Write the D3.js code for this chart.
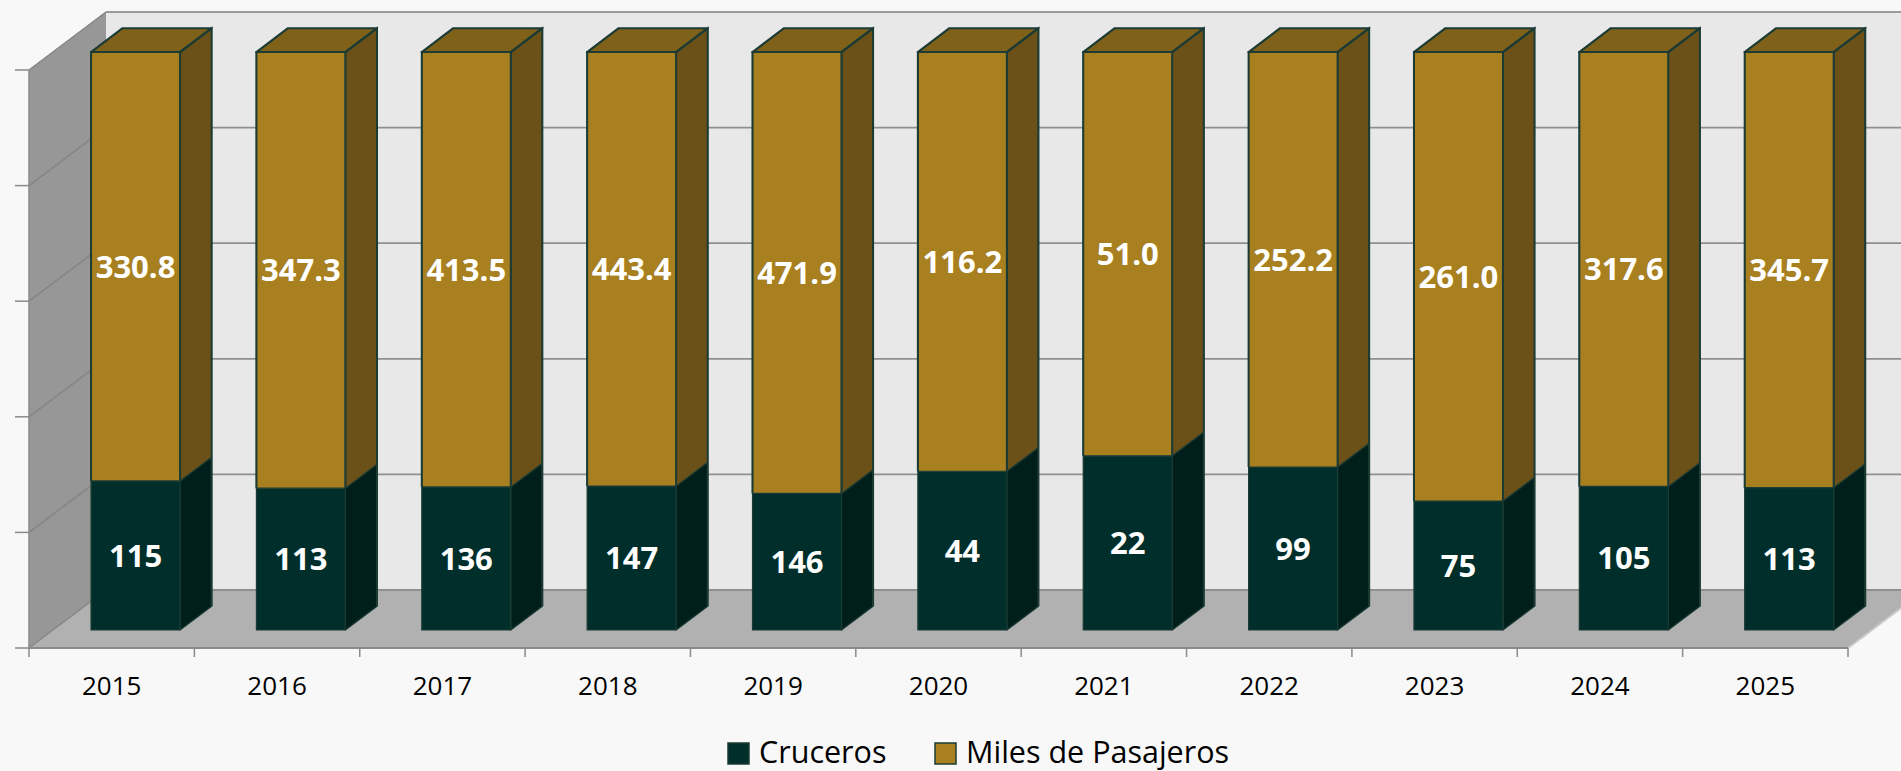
<!DOCTYPE html>
<html>
<head>
<meta charset="utf-8">
<script src="https://cdn.jsdelivr.net/npm/d3@7"></script>
<style>
  html,body{margin:0;padding:0;background:#f8f8f8;}
  svg{display:block;}
  text{font-family:"Open Sans",sans-serif;}
</style>
</head>
<body>
<svg id="chart" width="1901" height="771"></svg>
<script>
// ---- data ----
const years = ["2015","2016","2017","2018","2019","2020","2021","2022","2023","2024","2025"];
const cruceros = [115,113,136,147,146,44,22,99,75,105,113];
const pasajeros = [330.8,347.3,413.5,443.4,471.9,116.2,51.0,252.2,261.0,317.6,345.7];
const seriesNames = ["Cruceros","Miles de Pasajeros"];
const yTicks = [0,0.2,0.4,0.6,0.8,1];

// ---- layout ----
const W = 1901, H = 771;
const left = 29, right = 1848, floorY = 648, topY = 70;
const depth = {dx:77, dy:-58};
const fFront = 0.31, fBack = 0.72;

const svg = d3.select("#chart");
svg.append("rect").attr("width",W).attr("height",H).attr("fill","#f8f8f8");

const x = d3.scaleBand().domain(years).range([left,right]).paddingInner(0).paddingOuter(0);
const y = d3.scaleLinear().domain([0,1]).range([floorY,topY]);
const barW = 89;

const colors = {
  dark:{front:"#002e2a", side:"#001f1a", top:"#00241f"},
  gold:{front:"#a88020", side:"#6b5117", top:"#80611a"}
};
const outline = "#1b3b34";

function P(px,py,f){ return [px + depth.dx*f, py + depth.dy*f]; }
function poly(pts){ return "M"+pts.map(p=>p[0].toFixed(2)+","+p[1].toFixed(2)).join("L")+"Z"; }

// ---- walls ----
const g = svg.append("g");
const bl = P(left,y(0),1), tl = P(left,y(1),1);
g.append("path").attr("d",poly([tl,[W+100,tl[1]],[W+100,bl[1]],bl])).attr("fill","#e8e8e8");
g.append("path").attr("d",poly([[left,y(1)],tl,bl,[left,y(0)]])).attr("fill","#979797");
g.append("path").attr("d",poly([[left,y(0)],[right,y(0)],P(right,y(0),1),bl])).attr("fill","#b1b1b1");

yTicks.forEach(t=>{
  const a = P(left,y(t),1);
  g.append("line").attr("x1",a[0]).attr("y1",a[1]).attr("x2",W+100).attr("y2",a[1])
    .attr("stroke",t===1?"#9a9a9a":"#8f8f8f").attr("stroke-width",1.8);
  g.append("line").attr("x1",left).attr("y1",y(t)).attr("x2",a[0]).attr("y2",a[1])
    .attr("stroke","#858585").attr("stroke-width",1.5);
});
const fr = P(right,y(0),1);
g.append("line").attr("x1",right).attr("y1",y(0)).attr("x2",fr[0]).attr("y2",fr[1])
  .attr("stroke","#c8c8c8").attr("stroke-width",2);

g.append("line").attr("x1",left).attr("y1",y(1)).attr("x2",left).attr("y2",y(0))
  .attr("stroke","#8a8a8a").attr("stroke-width",1.5);
yTicks.forEach(t=>{
  g.append("line").attr("x1",15).attr("y1",y(t)).attr("x2",left).attr("y2",y(t))
    .attr("stroke","#8a8a8a").attr("stroke-width",1.5);
});
g.append("line").attr("x1",left).attr("y1",y(0)).attr("x2",right).attr("y2",y(0))
  .attr("stroke","#8a8a8a").attr("stroke-width",2);
const bounds = years.map(d=>x(d)).concat([right]);
bounds.forEach(bx=>{
  g.append("line").attr("x1",bx).attr("y1",y(0)).attr("x2",bx).attr("y2",y(0)+9)
    .attr("stroke","#8a8a8a").attr("stroke-width",1.5);
});

years.forEach(d=>{
  g.append("text").attr("x",x(d)+x.bandwidth()/2).attr("y",695)
    .attr("text-anchor","middle").attr("font-size",26).attr("fill","#000").text(d);
});

// ---- bars ----
const bars = svg.append("g");
years.forEach((yr,i)=>{
  const total = cruceros[i]+pasajeros[i];
  const segs = [
    {v0:0, v1:cruceros[i]/total, c:colors.dark, label:String(cruceros[i])},
    {v0:cruceros[i]/total, v1:1, c:colors.gold, label:pasajeros[i].toFixed(1)}
  ];
  const xl = x(yr) + (x.bandwidth()-barW)/2, xr = xl + barW;
  segs.forEach((s,k)=>{
    const fbl = P(xl,y(s.v0),fFront), fbr = P(xr,y(s.v0),fFront);
    const ftl = P(xl,y(s.v1),fFront), ftr = P(xr,y(s.v1),fFront);
    const bbr = P(xr,y(s.v0),fBack), btr = P(xr,y(s.v1),fBack), btl = P(xl,y(s.v1),fBack);
    bars.append("path").attr("d",poly([fbr,bbr,btr,ftr])).attr("fill",s.c.side)
      .attr("stroke",outline).attr("stroke-width",1.2).attr("stroke-linejoin","round");
    bars.append("path").attr("d",poly([fbl,fbr,ftr,ftl])).attr("fill",s.c.front)
      .attr("stroke",outline).attr("stroke-width",1.2).attr("stroke-linejoin","round");
    if(k===segs.length-1){
      bars.append("path").attr("d",poly([ftl,ftr,btr,btl])).attr("fill",s.c.top)
        .attr("stroke",outline).attr("stroke-width",2.2).attr("stroke-linejoin","round");
      bars.append("path").attr("d","M"+fbl.join(",")+"L"+ftl.join(",")+"L"+ftr.join(",")+"L"+fbr.join(","))
        .attr("fill","none").attr("stroke",outline).attr("stroke-width",2);
      bars.append("path").attr("d","M"+ftr.join(",")+"L"+btr.join(",")+"L"+P(xr,y(0),fBack).join(","))
        .attr("fill","none").attr("stroke",outline).attr("stroke-width",2);
    }
    const cx = (fbl[0]+fbr[0])/2, cy = (fbl[1]+ftl[1])/2;
    bars.append("text").attr("x",cx).attr("y",cy).attr("dy","0.36em")
      .attr("text-anchor","middle").attr("font-size",31).attr("font-weight","bold")
      .attr("fill","#ffffff").text(s.label);
  });
});

// ---- legend ----
const leg = svg.append("g");
const legItems = [
  {name:seriesNames[0], c:colors.dark.front, x:728},
  {name:seriesNames[1], c:colors.gold.front, x:935}
];
legItems.forEach(it=>{
  leg.append("rect").attr("x",it.x).attr("y",743).attr("width",21).attr("height",21)
    .attr("fill",it.c).attr("stroke",outline).attr("stroke-width",1.5);
  leg.append("text").attr("x",it.x+31).attr("y",763).attr("font-size",30.5)
    .attr("fill","#000").text(it.name);
});
</script>
</body>
</html>
